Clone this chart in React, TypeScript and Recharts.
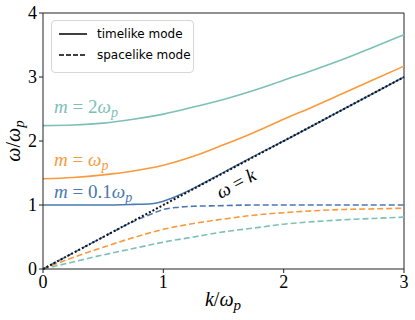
import React from "react";
import {
  LineChart,
  Line,
  XAxis,
  YAxis,
  ReferenceLine,
} from "recharts";

// values, k in units of omega_p
const kGrid = [0, 0.25, 0.5, 0.75, 1, 1.25, 1.5, 1.75, 2, 2.25, 2.5, 2.75, 3];
const timelikeM2 = [2.24, 2.25, 2.28, 2.34, 2.42, 2.53, 2.65, 2.79, 2.95, 3.11, 3.28, 3.47, 3.66];
const timelikeM1 = [1.41, 1.43, 1.47, 1.53, 1.62, 1.76, 1.94, 2.13, 2.34, 2.54, 2.75, 2.96, 3.17];
const spacelikeM1 = [0, 0.18, 0.34, 0.49, 0.62, 0.71, 0.78, 0.84, 0.88, 0.91, 0.93, 0.94, 0.95];
const spacelikeM2 = [0, 0.11, 0.22, 0.32, 0.42, 0.5, 0.58, 0.64, 0.7, 0.74, 0.77, 0.79, 0.81];

const kSmall = [0, 0.25, 0.5, 0.75, 0.9, 1, 1.1, 1.25, 1.5, 1.75, 2, 2.5, 3];
const timelikeM01 = [1.0, 1.0, 1.0, 1.01, 1.02, 1.06, 1.13, 1.26, 1.51, 1.76, 2.0, 2.5, 3.0];
const spacelikeM01 = [0, 0.25, 0.5, 0.74, 0.86, 0.93, 0.96, 0.98, 0.99, 1.0, 1.0, 1.0, 1.0];

const lightK = [0, 3];
const lightW = [0, 3];

const xTicks = [0, 1, 2, 3];
const yTicks = [0, 1, 2, 3, 4];

const TEAL = "#7dc0b7";
const ORANGE = "#f99a3c";
const BLUE = "#4a78b2";

const toSeries = (ks: number[], ws: number[]) =>
  ks.map((k, i) => ({ k, w: ws[i] }));

const serif = "'Liberation Serif', 'DejaVu Serif', serif";

const LegendBox = () => (
  <div
    style={{
      position: "absolute",
      left: 51,
      top: 20,
      width: 143,
      height: 53,
      border: "1px solid #d6d6d6",
      borderRadius: 4,
      background: "rgba(255,255,255,0.85)",
      boxSizing: "border-box",
    }}
  >
    <svg width={141} height={51} style={{ fontFamily: "'DejaVu Sans', sans-serif", fontSize: 12 }}>
      <line x1={7} x2={35} y1={13} y2={13} stroke="#000" strokeWidth={1.5} />
      <text x={45} y={17}>timelike mode</text>
      <line x1={7} x2={35} y1={34} y2={34} stroke="#000" strokeWidth={1.5} strokeDasharray="5 2" />
      <text x={45} y={38}>spacelike mode</text>
    </svg>
  </div>
);

export default function App() {
  return (
    <div style={{ position: "absolute", left: 0, top: 0, width: 415, height: 320, background: "#fff" }}>
      <LineChart
        width={415}
        height={320}
        margin={{ top: 13, right: 11, left: 0, bottom: 0 }}
        style={{ fontFamily: serif }}
      >
        <XAxis
          type="number"
          dataKey="k"
          domain={[0, 3]}
          ticks={xTicks}
          height={51}
          stroke="#222"
          tickSize={4}
          tick={{ fontFamily: serif, fontSize: 18, fill: "#000" }}
          allowDuplicatedCategory={false}
        />
        <YAxis
          type="number"
          domain={[0, 4]}
          ticks={yTicks}
          width={43}
          stroke="#222"
          tickSize={4}
          tick={{ fontFamily: serif, fontSize: 18, fill: "#000" }}
        />
        <ReferenceLine y={4} stroke="#222" />
        <ReferenceLine x={3} stroke="#222" />
        <Line data={toSeries(kGrid, timelikeM2)} dataKey="w" type="monotone" stroke={TEAL} strokeWidth={1.6} dot={false} isAnimationActive={false} />
        <Line data={toSeries(kGrid, timelikeM1)} dataKey="w" type="monotone" stroke={ORANGE} strokeWidth={1.6} dot={false} isAnimationActive={false} />
        <Line data={toSeries(kSmall, timelikeM01)} dataKey="w" type="monotone" stroke={BLUE} strokeWidth={1.6} dot={false} isAnimationActive={false} />
        <Line data={toSeries(kGrid, spacelikeM2)} dataKey="w" type="monotone" stroke={TEAL} strokeWidth={1.6} strokeDasharray="6 3" dot={false} isAnimationActive={false} />
        <Line data={toSeries(kGrid, spacelikeM1)} dataKey="w" type="monotone" stroke={ORANGE} strokeWidth={1.6} strokeDasharray="6 3" dot={false} isAnimationActive={false} />
        <Line data={toSeries(kSmall, spacelikeM01)} dataKey="w" type="monotone" stroke={BLUE} strokeWidth={1.6} strokeDasharray="6 3" dot={false} isAnimationActive={false} />
        <Line data={toSeries(lightK, lightW)} dataKey="w" type="linear" stroke="#111" strokeWidth={2} strokeDasharray="2 2" dot={false} isAnimationActive={false} />
      </LineChart>
      <LegendBox />
      <svg
        width={415}
        height={320}
        fontFamily={serif}
        style={{ position: "absolute", left: 0, top: 0, pointerEvents: "none" }}
      >
        <text x={54} y={113} fill={TEAL} fontSize={19}>
          <tspan fontStyle="italic">m</tspan> = 2<tspan fontStyle="italic">ω</tspan>
          <tspan fontStyle="italic" fontSize={14} dy={4}>p</tspan>
        </text>
        <text x={54} y={166} fill={ORANGE} fontSize={19}>
          <tspan fontStyle="italic">m</tspan> = <tspan fontStyle="italic">ω</tspan>
          <tspan fontStyle="italic" fontSize={14} dy={4}>p</tspan>
        </text>
        <text x={54} y={198} fill={BLUE} fontSize={19}>
          <tspan fontStyle="italic">m</tspan> = 0.1<tspan fontStyle="italic">ω</tspan>
          <tspan fontStyle="italic" fontSize={14} dy={4}>p</tspan>
        </text>
        <text
          x={239}
          y={189}
          fontSize={19}
          fill="#000"
          textAnchor="middle"
          transform="rotate(-28 239 189)"
        >
          <tspan fontStyle="italic">ω</tspan> = <tspan fontStyle="italic">k</tspan>
        </text>
        <text x={223} y={306} fontSize={20} fill="#000" textAnchor="middle">
          <tspan fontStyle="italic">k</tspan>/<tspan fontStyle="italic">ω</tspan>
          <tspan fontStyle="italic" fontSize={15} dy={4}>p</tspan>
        </text>
        <text
          x={20}
          y={141}
          fontSize={20}
          fill="#000"
          textAnchor="middle"
          transform="rotate(-90 20 141)"
        >
          <tspan fontStyle="italic">ω</tspan>/<tspan fontStyle="italic">ω</tspan>
          <tspan fontStyle="italic" fontSize={15} dy={4}>p</tspan>
        </text>
      </svg>
    </div>
  );
}
